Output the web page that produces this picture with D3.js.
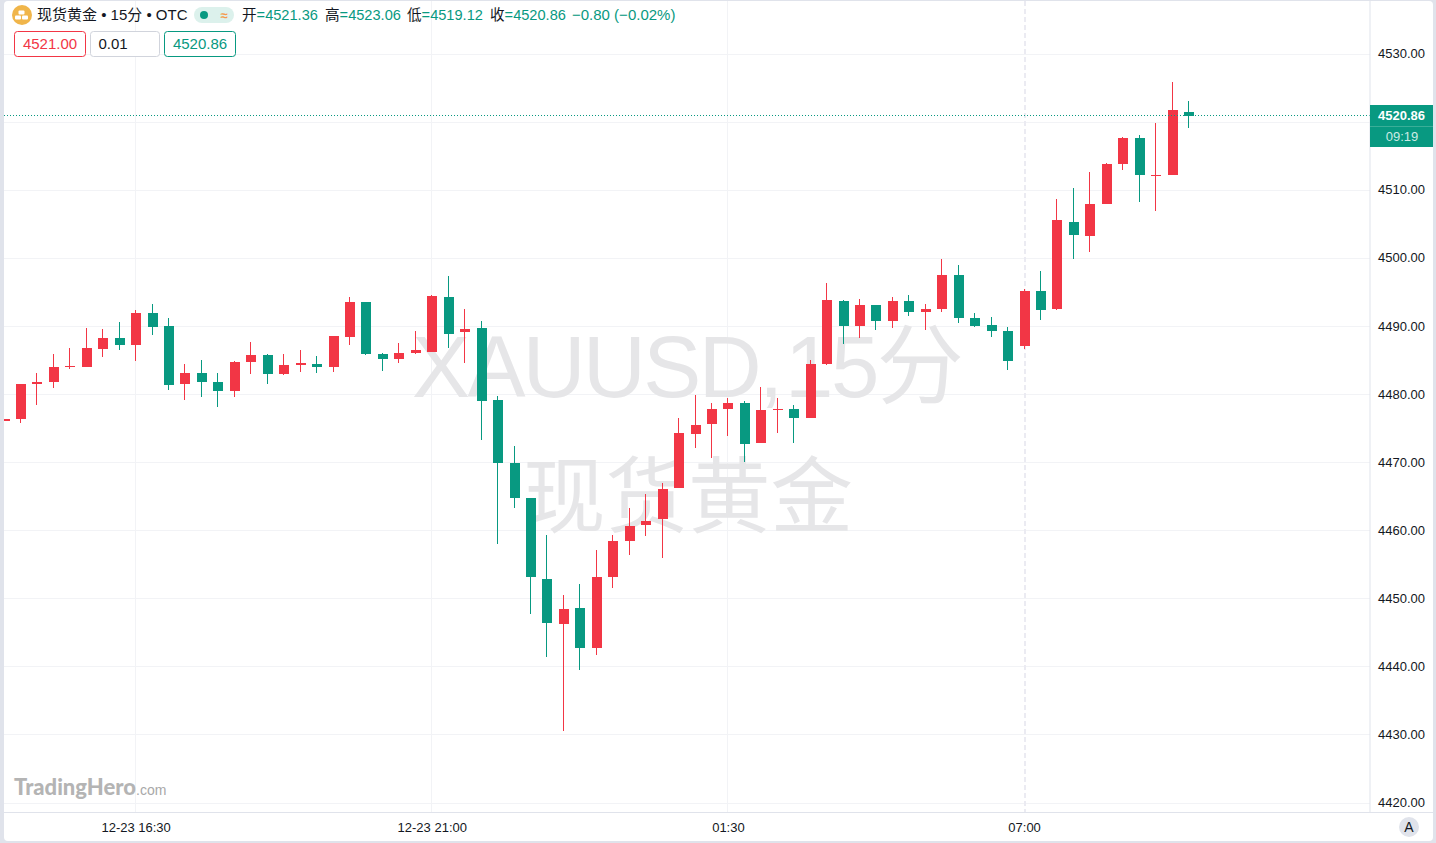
<!DOCTYPE html>
<html>
<head>
<meta charset="utf-8">
<script src="https://cdn.jsdelivr.net/npm/d3@7"></script>
<style>
  html, body { margin: 0; padding: 0; background: #fff; overflow: hidden; }
  svg { display: block; font-family: "Liberation Sans", "Noto Sans CJK SC", sans-serif; }
</style>
</head>
<body>
<div id="chart"></div>
<script>
// XAUUSD 15 minute bars
var opens = [4476.03,4476.32,4481.46,4481.76,4483.96,4483.96,4486.60,4488.22,4487.19,4491.89,4489.98,4481.46,4483.08,4481.76,4480.43,4484.69,4485.72,4482.93,4484.25,4484.40,4483.96,4488.37,4493.51,4485.87,4485.13,4486.02,4486.16,4494.24,4489.10,4489.69,4479.11,4469.86,4464.72,4452.83,4446.22,4448.57,4442.69,4453.12,4458.41,4460.76,4461.64,4466.19,4474.12,4475.59,4477.79,4478.67,4472.80,4477.64,4477.79,4476.47,4484.40,4493.65,4489.98,4493.06,4490.72,4493.65,4492.04,4492.48,4497.47,4491.16,4490.13,4489.25,4487.04,4495.12,4492.48,4505.25,4503.20,4507.90,4513.77,4517.59,4512.01,4512.16,4521.36];
var highs = [4476.32,4481.46,4483.08,4485.87,4486.75,4489.69,4489.54,4490.57,4492.33,4493.21,4491.16,4484.40,4484.99,4483.08,4484.84,4487.63,4485.87,4485.87,4486.46,4485.57,4488.51,4494.24,4493.51,4486.02,4487.48,4489.25,4494.53,4497.32,4492.48,4490.72,4479.70,4472.36,4464.72,4459.29,4450.48,4452.09,4457.08,4459.29,4463.25,4465.31,4466.92,4476.47,4479.85,4478.67,4479.41,4478.97,4481.02,4479.41,4478.38,4484.99,4496.30,4493.80,4493.95,4493.06,4494.24,4494.53,4493.21,4499.82,4498.94,4491.89,4491.30,4489.83,4495.41,4498.06,4508.63,4510.25,4512.60,4513.92,4517.74,4518.03,4519.79,4525.81,4523.06];
var lows = [4476.03,4475.74,4478.38,4480.88,4483.67,4483.96,4485.43,4486.46,4484.84,4488.66,4480.58,4479.11,4479.55,4478.08,4479.55,4482.93,4481.46,4482.78,4483.22,4483.08,4483.22,4487.19,4485.72,4483.37,4484.55,4485.87,4486.16,4486.75,4484.55,4473.24,4457.97,4463.25,4447.69,4441.37,4430.50,4439.46,4441.66,4451.50,4456.35,4459.14,4455.91,4466.19,4472.06,4470.59,4473.83,4470.01,4472.80,4474.27,4472.80,4476.47,4484.25,4487.34,4488.22,4489.39,4489.69,4491.45,4489.39,4492.04,4490.42,4489.83,4488.37,4483.52,4486.60,4490.86,4492.33,4499.82,4500.85,4507.90,4512.89,4508.19,4506.87,4512.16,4519.12];
var closes = [4476.32,4481.46,4481.76,4483.96,4484.11,4486.75,4488.22,4487.19,4491.89,4489.83,4481.32,4483.08,4481.76,4480.43,4484.69,4485.72,4482.93,4484.25,4484.55,4483.96,4488.51,4493.51,4485.87,4485.13,4486.02,4486.46,4494.39,4488.81,4489.54,4478.97,4469.86,4464.72,4453.12,4446.36,4448.42,4442.69,4453.12,4458.41,4460.61,4461.34,4466.04,4474.27,4475.44,4477.79,4478.67,4472.65,4477.64,4477.79,4476.47,4484.40,4493.80,4489.98,4493.06,4490.72,4493.65,4492.04,4492.48,4497.47,4491.16,4489.98,4489.25,4484.84,4495.12,4492.33,4505.55,4503.34,4507.90,4513.77,4517.59,4512.16,4512.16,4521.70,4520.86];

var priceTicks = [4420, 4430, 4440, 4450, 4460, 4470, 4480, 4490, 4500, 4510, 4520, 4530];
var timeTickBars = [8, 26, 44, 62];
var timeLabels = ["12-23 16:30", "12-23 21:00", "01:30", "07:00"];
var lastPrice = 4520.86;
var countdown = "09:19";
var bidAsk = ["4521.00", "0.01", "4520.86"];
var legendItems = [["开", "4521.36"], ["高", "4523.06"], ["低", "4519.12"], ["收", "4520.86"]];

var W = 1436, H = 843;
var plotLeft = 4, plotRight = 1370, plotBottom = 812, panelRight = 1433;
var red = "#f23645", green = "#089981", ink = "#131722", grid = "#f2f3f6", border = "#e0e3eb";

var svg = d3.select("#chart").append("svg").attr("width", W).attr("height", H);

var x = d3.scaleLinear().domain([0, 72]).range([4, 1188.6]);
var y = d3.scaleLinear().domain([4420, 4530]).range([802.5, 53.5]);

svg.append("defs").append("clipPath").attr("id", "plot-clip")
    .append("rect").attr("x", plotLeft).attr("y", 0)
    .attr("width", plotRight - plotLeft).attr("height", plotBottom);

// Panel frame
svg.append("rect").attr("width", W).attr("height", H).attr("fill", border);
svg.append("rect").attr("x", plotLeft).attr("y", 1)
    .attr("width", panelRight - plotLeft).attr("height", 840).attr("rx", 4).attr("fill", "#fff");

// Grid lines
var xGrid = svg.append("g").attr("class", "x-grid").attr("shape-rendering", "crispEdges")
    .attr("transform", "translate(0," + plotBottom + ")")
    .call(d3.axisBottom(x).offset(0).tickValues(timeTickBars.slice(0, 3)).tickSize(-plotBottom + 1).tickFormat(""));
xGrid.select(".domain").remove();
xGrid.selectAll("line").attr("stroke", grid).attr("stroke-width", 1);

var yGrid = svg.append("g").attr("class", "y-grid").attr("shape-rendering", "crispEdges")
    .attr("transform", "translate(" + plotRight + ",0)")
    .call(d3.axisLeft(y).tickValues(priceTicks).tickSize(plotRight - plotLeft).tickFormat(""));
yGrid.select(".domain").remove();
yGrid.selectAll("line").attr("stroke", grid).attr("stroke-width", 1);

// 07:00 session line is dashed
svg.append("line")
    .attr("x1", Math.floor(x(62)) + 1).attr("x2", Math.floor(x(62)) + 1)
    .attr("y1", 1).attr("y2", plotBottom)
    .attr("stroke", "#ebebf2").attr("stroke-width", 2).attr("stroke-dasharray", "5,3");

// Watermarks
var mark = svg.append("text").attr("x", 412).attr("y", 397)
    .attr("font-size", 87).attr("letter-spacing", -2.6).attr("fill", "#e6e6e8");
mark.append("tspan").text("XAUUSD,");
mark.append("tspan").attr("dx", -17).text(" 15分");
svg.append("text").attr("x", 523).attr("y", 526)
    .attr("font-size", 82.5).attr("fill", "#e6e6e8")
    .text("现货黄金");

// Logo text
var logo = svg.append("text").attr("x", 14).attr("y", 795).attr("fill", "#b4b4b4");
logo.append("tspan").attr("font-family", "Lato").attr("font-weight", 900).attr("font-size", 22).text("TradingHero");
logo.append("tspan").attr("font-size", 14).attr("fill", "#a8a8a8").text(".com");

// Candles
var bars = d3.range(opens.length).map(function (i) {
    return { i: i, o: opens[i], h: highs[i], l: lows[i], c: closes[i] };
});
var candleColor = function (d) { return d.c >= d.o ? red : green; };
var candles = svg.append("g").attr("clip-path", "url(#plot-clip)").attr("shape-rendering", "crispEdges")
    .selectAll("g").data(bars).enter().append("g");

candles.append("rect")
    .attr("x", function (d) { return Math.floor(x(d.i)); })
    .attr("width", 1)
    .attr("y", function (d) { return Math.round(y(d.h)); })
    .attr("height", function (d) { return Math.max(1, Math.round(y(d.l)) - Math.round(y(d.h))); })
    .attr("fill", candleColor);

candles.append("rect")
    .attr("x", function (d) { return Math.floor(x(d.i)) - 4; })
    .attr("width", 10)
    .attr("y", function (d) { return Math.round(y(Math.max(d.o, d.c))); })
    .attr("height", function (d) { return Math.max(1, Math.round(y(Math.min(d.o, d.c))) - Math.round(y(Math.max(d.o, d.c)))); })
    .attr("fill", candleColor);

// Last price line
svg.append("line")
    .attr("x1", plotLeft).attr("x2", plotRight)
    .attr("y1", Math.floor(y(lastPrice)) + 0.5).attr("y2", Math.floor(y(lastPrice)) + 0.5)
    .attr("stroke", green).attr("stroke-width", 1).attr("stroke-dasharray", "1,2");

// Price axis; the 4520 label sits under the last price tag in the reference
var yAxis = svg.append("g").attr("class", "y-axis")
    .attr("transform", "translate(" + plotRight + ",0)")
    .call(d3.axisRight(y).tickValues(priceTicks.filter(function (d) { return d !== 4520; })).tickSize(0).tickFormat(d3.format(".2f")));
yAxis.select(".domain").remove();
yAxis.selectAll("text")
    .attr("x", 55).attr("text-anchor", "end")
    .attr("font-family", "Liberation Sans").attr("font-size", 13).attr("fill", ink);

svg.append("rect").attr("x", plotRight - 0.5).attr("y", 1).attr("width", 1).attr("height", plotBottom - 1).attr("fill", border);
svg.append("rect").attr("x", plotLeft).attr("y", plotBottom).attr("width", panelRight - plotLeft).attr("height", 1).attr("fill", border);

// Time axis
var xAxis = svg.append("g").attr("class", "x-axis")
    .attr("transform", "translate(0," + plotBottom + ")")
    .call(d3.axisBottom(x).tickValues(timeTickBars).tickSize(0)
        .tickFormat(function (d, i) { return timeLabels[i]; }));
xAxis.select(".domain").remove();
xAxis.selectAll("text")
    .attr("y", 20).attr("dy", 0)
    .attr("font-family", "Liberation Sans").attr("font-size", 13).attr("fill", ink);

// Last price tag
var tag = svg.append("g");
tag.append("rect").attr("x", plotRight).attr("y", 105).attr("width", panelRight - plotRight).attr("height", 42).attr("fill", green);
tag.append("rect").attr("x", plotRight).attr("y", 126).attr("width", panelRight - plotRight).attr("height", 1).attr("fill", "#3aae98");
tag.append("text").attr("x", 1425).attr("y", 120).attr("text-anchor", "end")
    .attr("font-size", 13).attr("font-weight", "bold").attr("fill", "#fff").text(lastPrice.toFixed(2));
tag.append("text").attr("x", 1402).attr("y", 141).attr("text-anchor", "middle")
    .attr("font-size", 13).attr("fill", "#cdebe5").text(countdown);

// Auto scale button
svg.append("circle").attr("cx", 1409).attr("cy", 827).attr("r", 10).attr("fill", border);
svg.append("text").attr("x", 1409).attr("y", 832).attr("text-anchor", "middle")
    .attr("font-size", 14).attr("fill", ink).text("A");

// Header: symbol icon and title
svg.append("circle").attr("cx", 22).attr("cy", 15).attr("r", 10).attr("fill", "#f0b54a");
[[18.5, 10.5], [15, 15.5], [22, 15.5]].forEach(function (p) {
    svg.append("rect").attr("x", p[0]).attr("y", p[1]).attr("width", 6).attr("height", 4).attr("rx", 1).attr("fill", "#fff");
});
svg.append("text").attr("x", 37).attr("y", 20).attr("font-size", 15).attr("fill", ink).text("现货黄金 • 15分 • OTC");

svg.append("rect").attr("x", 194).attr("y", 7).attr("width", 40).attr("height", 16).attr("rx", 8).attr("fill", "#dcf1ec");
svg.append("circle").attr("cx", 204).attr("cy", 15).attr("r", 4).attr("fill", green);
svg.append("text").attr("x", 224).attr("y", 19.5).attr("text-anchor", "middle")
    .attr("font-size", 13).attr("font-weight", "bold").attr("fill", "#f59a4c").text("≈");

// Header: OHLC values
var legendX = [242, 325, 407, 490];
legendItems.forEach(function (d, i) {
    var t = svg.append("text").attr("x", legendX[i]).attr("y", 20).attr("font-size", 14.6);
    t.append("tspan").attr("fill", ink).text(d[0]);
    t.append("tspan").attr("fill", green).text("=" + d[1]);
});
svg.append("text").attr("x", 572).attr("y", 20).attr("font-size", 15).attr("fill", green).text("−0.80 (−0.02%)");

// Bid / size / ask boxes
var boxes = [
    { x: 14.5, w: 71, stroke: red, color: red },
    { x: 90.5, w: 69, stroke: "#d1d4dc", color: ink, left: true },
    { x: 164.5, w: 71, stroke: green, color: green }
];
boxes.forEach(function (b, i) {
    svg.append("rect").attr("x", b.x).attr("y", 31.5).attr("width", b.w).attr("height", 25).attr("rx", 3)
        .attr("fill", "#fff").attr("stroke", b.stroke);
    svg.append("text").attr("x", b.left ? b.x + 8 : b.x + b.w / 2).attr("y", 49)
        .attr("text-anchor", b.left ? "start" : "middle")
        .attr("font-size", 15).attr("fill", b.color).text(bidAsk[i]);
});
</script>
</body>
</html>
